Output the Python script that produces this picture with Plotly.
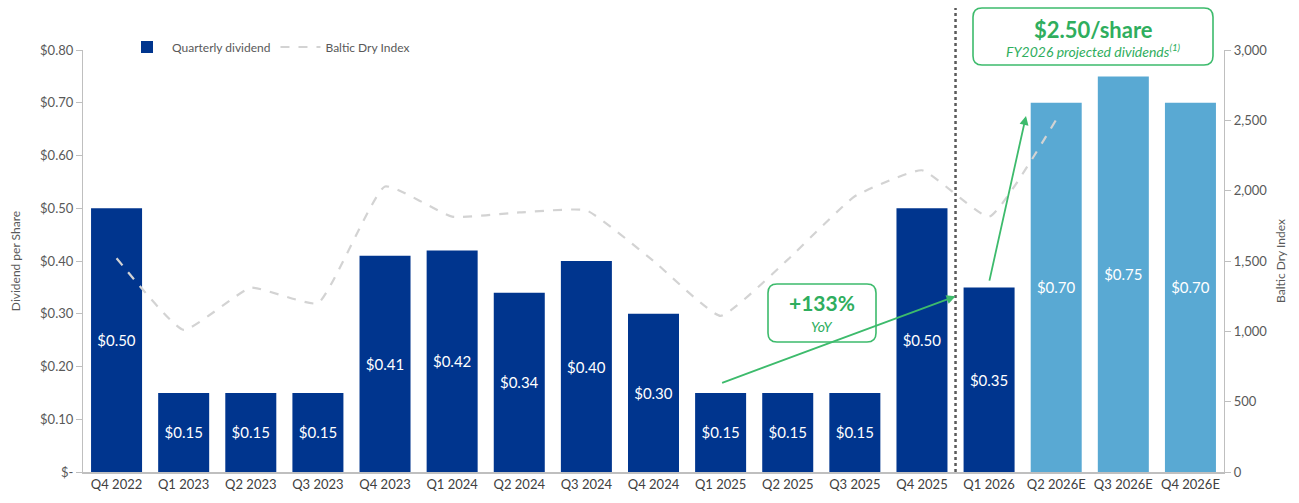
import plotly.graph_objects as go

quarters = ["Q4 2022", "Q1 2023", "Q2 2023", "Q3 2023", "Q4 2023", "Q1 2024", "Q2 2024",
            "Q3 2024", "Q4 2024", "Q1 2025", "Q2 2025", "Q3 2025", "Q4 2025", "Q1 2026",
            "Q2 2026E", "Q3 2026E", "Q4 2026E"]
dividends = [0.50, 0.15, 0.15, 0.15, 0.41, 0.42, 0.34, 0.40, 0.30, 0.15, 0.15, 0.15,
             0.50, 0.35, 0.70, 0.75, 0.70]
projected = [False] * 14 + [True] * 3
bdi = [1520, 1010, 1310, 1200, 2030, 1815, 1845, 1860, 1500, 1110, 1510, 1960, 2145,
       1815, 2505, None, None]
left_ticks = [0, 0.1, 0.2, 0.3, 0.4, 0.5, 0.6, 0.7, 0.8]
left_ticktext = ["$-", "$0.10", "$0.20", "$0.30", "$0.40", "$0.50", "$0.60", "$0.70", "$0.80"]
right_ticks = [0, 500, 1000, 1500, 2000, 2500, 3000]

DARK = "#00358E"
LIGHT = "#59A9D3"
GREEN = "#3DBB6C"
GREEN_TXT = "#2FAE5E"
GREY = "#595959"
AXIS = "#BFBFBF"

W, H = 1299, 503
L, R, T, B = 83, 75, 50, 31
PW, PH = W - L - R, H - T - B


def px(x):
    return (x - L) / PW


def py(y):
    return (H - B - y) / PH


def rounded_rect(x0, y0, x1, y1, r):
    # pixel coords (y down) -> paper path
    rx, ry = r / PW, r / PH
    X0, X1 = px(x0), px(x1)
    Ytop, Ybot = py(y0), py(y1)
    return (f"M {X0+rx},{Ytop} L {X1-rx},{Ytop} Q {X1},{Ytop} {X1},{Ytop-ry} "
            f"L {X1},{Ybot+ry} Q {X1},{Ybot} {X1-rx},{Ybot} "
            f"L {X0+rx},{Ybot} Q {X0},{Ybot} {X0},{Ybot+ry} "
            f"L {X0},{Ytop-ry} Q {X0},{Ytop} {X0+rx},{Ytop} Z")


fig = go.Figure()
fig.add_trace(go.Bar(
    x=quarters, y=dividends, name="Quarterly dividend",
    marker=dict(color=[LIGHT if p else DARK for p in projected], line=dict(width=0)),
    width=0.76,
    texttemplate="$%{y:.2f}", textposition="inside", insidetextanchor="middle",
    textangle=0, textfont=dict(color="white", size=15, family="Lato"),
))
fig.add_trace(go.Scatter(
    x=quarters, y=bdi, name="Baltic Dry Index", yaxis="y2", mode="lines",
    line=dict(color="#D3D3D3", width=2.2, dash="dash", shape="spline", smoothing=0.4),
    connectgaps=False,
))

shapes = [
    dict(type="line", xref="x", yref="paper", x0=12.5, x1=12.5, y0=0, y1=py(8),
         line=dict(color="#5A5A5A", width=2.5, dash="dot")),
    dict(type="path", xref="paper", yref="paper", path=rounded_rect(973, 8, 1213, 65, 9),
         line=dict(color=GREEN, width=1.6), fillcolor="white", layer="above"),
    dict(type="path", xref="paper", yref="paper", path=rounded_rect(768, 284, 876, 342, 9),
         line=dict(color=GREEN, width=1.6), fillcolor="white", layer="above"),
]

annotations = [
    dict(x=12.5, y=0.333, ax=9, ay=0.168, xref="x", yref="y", axref="x", ayref="y",
         text="", showarrow=True, arrowhead=2, arrowsize=1, arrowwidth=1.8, arrowcolor=GREEN),
    dict(x=13.55, y=0.675, ax=13.0, ay=0.36, xref="x", yref="y", axref="x", ayref="y",
         text="", showarrow=True, arrowhead=2, arrowsize=1, arrowwidth=1.8, arrowcolor=GREEN),
    dict(x=px(1093), y=py(29), xref="paper", yref="paper", showarrow=False,
         xanchor="center", yanchor="middle",
         text="<b>$2.50/share</b>", font=dict(family="Lato", size=22, color=GREEN_TXT)),
    dict(x=px(1093), y=py(51), xref="paper", yref="paper", showarrow=False,
         xanchor="center", yanchor="middle",
         text="<i>FY2026 projected dividends<sup>(1)</sup></i>",
         font=dict(family="Lato", size=14, color=GREEN_TXT)),
    dict(x=px(822), y=py(302), xref="paper", yref="paper", showarrow=False,
         xanchor="center", yanchor="middle",
         text="<b>+133%</b>", font=dict(family="Lato", size=21, color=GREEN_TXT)),
    dict(x=px(822), y=py(326), xref="paper", yref="paper", showarrow=False,
         xanchor="center", yanchor="middle",
         text="<i>YoY</i>", font=dict(family="Lato", size=14, color=GREEN_TXT)),
]

fig.update_layout(
    width=W, height=H,
    margin=dict(l=L, r=R, t=T, b=B),
    paper_bgcolor="white", plot_bgcolor="white",
    font=dict(family="Lato", size=12, color=GREY),
    bargap=0.24,
    showlegend=True,
    legend=dict(orientation="h", x=px(122), y=py(47), xanchor="left", yanchor="middle",
                font=dict(size=12, color=GREY), bgcolor="rgba(0,0,0,0)", itemwidth=40),
    xaxis=dict(type="category", range=[-0.5, 16.5], showgrid=False, showline=True,
               linecolor=AXIS, linewidth=1.5, ticks="", tickfont=dict(size=13, color="#404040")),
    yaxis=dict(range=[0, 0.8], tickvals=left_ticks, ticktext=left_ticktext, showgrid=False,
               showline=True, linecolor=AXIS, linewidth=1.2, ticks="outside", ticklen=6,
               tickcolor=AXIS, tickfont=dict(size=13, color=GREY), zeroline=False,
               title=dict(text="Dividend per Share", font=dict(size=12, color=GREY), standoff=16)),
    yaxis2=dict(range=[0, 3000], overlaying="y", side="right", tickvals=right_ticks,
                tickformat=",", showgrid=False, showline=True, linecolor=AXIS, linewidth=1.2,
                ticks="outside", ticklen=6, tickcolor=AXIS, zeroline=False,
                tickfont=dict(size=13, color=GREY),
                title=dict(text="Baltic Dry Index", font=dict(size=12, color=GREY), standoff=10)),
    shapes=shapes,
    annotations=annotations,
)

fig.write_html("out.html")
